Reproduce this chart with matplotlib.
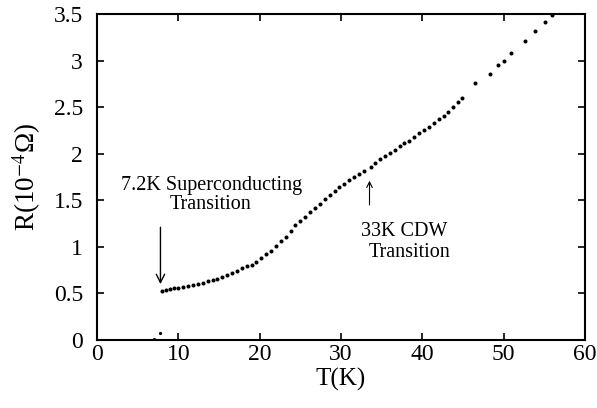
import numpy as np
import matplotlib
matplotlib.use('Agg')
import matplotlib.pyplot as plt

plt.rcParams['font.family'] = ['Liberation Serif', 'DejaVu Serif']
plt.rcParams['mathtext.fontset'] = 'stix'

# superconducting state, R ~ 0
T_sc = [0.5, 1.5, 2.5, 3.5, 4.5, 5.5, 6.5, 7.0, 7.8]
R_sc = [0.0, 0.0, 0.0, 0.0, 0.0, 0.0, 0.0, 0.01, 0.07]

# normal state
T_n = [8.0, 8.5, 9.0, 9.5, 10.0, 10.6, 11.2, 11.8, 12.4, 13.0, 13.6, 14.2,
       14.8, 15.4, 16.0, 16.6, 17.2, 17.8, 18.4, 19.0, 19.6, 20.2, 20.8,
       21.4, 22.0, 22.6, 23.2, 23.8, 24.4, 25.0, 25.6, 26.2, 26.8, 27.4,
       28.0, 28.6, 29.2, 29.8, 30.4, 31.0, 31.6, 32.2, 32.8,
       33.7, 34.2, 34.8, 35.4, 36.0, 36.6, 37.2, 37.8, 38.4, 39.0, 39.6,
       40.2, 40.8, 41.4, 42.0, 42.6, 43.2, 43.8, 44.4, 44.9,
       46.5, 48.3, 49.3, 50.0, 50.9, 52.6, 53.8, 55.1, 55.9]
R_n = [0.53, 0.54, 0.55, 0.555, 0.56, 0.57, 0.58, 0.59, 0.60, 0.615, 0.63, 0.645,
       0.66, 0.68, 0.70, 0.72, 0.745, 0.77, 0.79, 0.81, 0.84, 0.88, 0.92,
       0.96, 1.01, 1.06, 1.11, 1.17, 1.23, 1.28, 1.32, 1.37, 1.42, 1.46,
       1.51, 1.56, 1.60, 1.64, 1.68, 1.72, 1.75, 1.78, 1.81,
       1.86, 1.90, 1.94, 1.98, 2.01, 2.04, 2.08, 2.11, 2.14, 2.18, 2.22,
       2.25, 2.29, 2.33, 2.37, 2.41, 2.45, 2.50, 2.55, 2.60,
       2.76, 2.86, 2.95, 3.00, 3.08, 3.21, 3.32, 3.41, 3.49]

xticks = [0, 10, 20, 30, 40, 50, 60]
yticks = [0, 0.5, 1, 1.5, 2, 2.5, 3, 3.5]
ylabels = ['0', '0.5', '1', '1.5', '2', '2.5', '3', '3.5']

fig = plt.figure(figsize=(5.97, 4.08), dpi=100)
ax = fig.add_axes([0.1625, 0.1667, 0.8175, 0.799])

ax.plot(T_sc, R_sc, 'o', color='black', markersize=2.3, markeredgewidth=0)
ax.plot(T_n, R_n, 'o', color='black', markersize=2.9, markeredgewidth=0)

# arrows marking the transitions
ax.annotate('', xy=(7.8, 0.57), xytext=(7.8, 1.24),
            arrowprops=dict(arrowstyle='->', color='black', lw=1.0,
                            mutation_scale=15))
ax.annotate('', xy=(33.5, 1.74), xytext=(33.5, 1.42),
            arrowprops=dict(arrowstyle='->', color='black', lw=0.8,
                            mutation_scale=10))

ax.text(14.1, 1.66, '7.2K Superconducting', ha='center', va='center', fontsize=14.5)
ax.text(14.0, 1.45, 'Transition', ha='center', va='center', fontsize=14.5)
ax.text(37.8, 1.16, '33K CDW', ha='center', va='center', fontsize=14.5)
ax.text(38.4, 0.94, 'Transition', ha='center', va='center', fontsize=14.5)

ax.set_xlim(0, 60)
ax.set_ylim(0, 3.5)
ax.set_xticks(xticks)
ax.set_xticklabels([str(t) for t in xticks])
ax.set_yticks(yticks)
ax.set_yticklabels(ylabels)
ax.tick_params(direction='in', top=True, right=True, length=5, width=1.2,
               labelsize=17)
ax.tick_params(axis='x', pad=3)
ax.tick_params(axis='y', pad=10)
for s in ax.spines.values():
    s.set_linewidth(1.5)

ax.set_xlabel('T(K)', fontsize=18, labelpad=2)
ax.set_ylabel(r'R(10$^{-4}$Ω)', fontsize=19.5, labelpad=8)

fig.savefig('out.png', dpi=100)
